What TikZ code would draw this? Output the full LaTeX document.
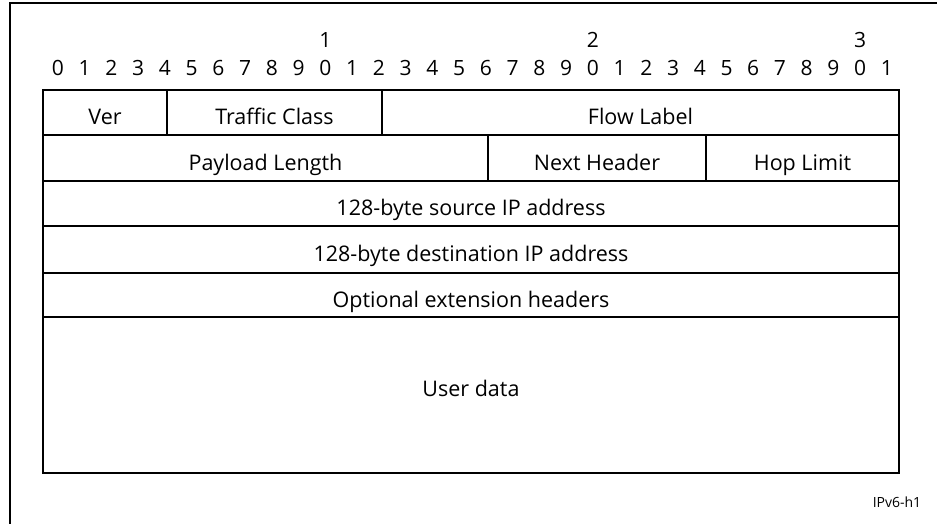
\documentclass[tikz,border=0pt]{standalone}
\usepackage{fontspec}
\setmainfont{Open Sans}
\usetikzlibrary{positioning}

\begin{document}
\begin{tikzpicture}[
        x=1pt, y=-1pt,
        field/.style={draw, line width=2pt, inner sep=0pt, text height=24pt, text depth=0pt,
                      font=\fontsize{21.5}{24}\selectfont},
        bitnum/.style={inner sep=0pt, font=\fontsize{21}{24}\selectfont},
        tag/.style={inner sep=0pt, font=\fontsize{14}{16}\selectfont}
    ]

    \useasboundingbox (0,0) rectangle (937,524);

    % frame (only top and left edges show)
    \draw[line width=2pt] (10,524) -- (10,3) -- (937,3);

    % bit numbers
    \foreach \b [evaluate=\b as \d using {int(mod(\b,10))}] in {0,...,31} {
        \node[bitnum] (bit\b) at (58+26.74*\b, 68) {\d};
    }
    \foreach \t in {1,2,3} {
        \node[bitnum] (ten\t) at (58+26.74*\t*10, 40) {\t};
    }

    % row 1
    \node[field, minimum width=124pt, minimum height=45pt] (ver) at (105,112.5) {Ver};
    \node[field, minimum width=215pt, minimum height=45pt] (tclass) at (274.5,112.5) {Traffic Class};
    \node[field, minimum width=517pt, minimum height=45pt] (flow) at (640.5,112.5) {Flow Label};

    % row 2
    \node[field, minimum width=445pt, minimum height=46pt] (plen) at (265.5,158) {Payload Length};
    \node[field, minimum width=218pt, minimum height=46pt] (nexth) at (597,158) {Next Header};
    \node[field, minimum width=193pt, minimum height=46pt] (hop) at (802.5,158) {Hop Limit};

    % full width rows
    \node[field, minimum width=856pt, minimum height=45pt] (src) at (471,203.5) {128-byte source IP address};
    \node[field, minimum width=856pt, minimum height=47pt] (dst) at (471,249.5) {128-byte destination IP address};
    \node[field, minimum width=856pt, minimum height=44pt] (ext) at (471,295) {Optional extension headers};
    \node[field, minimum width=856pt, minimum height=156pt, text depth=22pt] (data) at (471,395) {User data};

    % figure tag
    \node[tag] (figtag) at (897,502) {IPv6-h1};

\end{tikzpicture}
\end{document}
